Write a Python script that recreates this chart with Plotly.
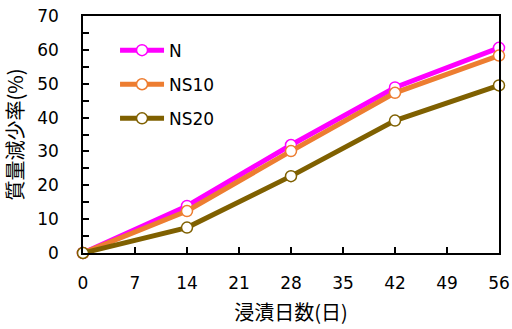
import plotly.graph_objects as go

days = [0, 14, 28, 42, 56]
series_names = ["N", "NS10", "NS20"]
n_vals = [0, 13.9, 31.9, 48.9, 60.6]
ns10_vals = [0, 12.4, 30.1, 47.3, 58.3]
ns20_vals = [0, 7.5, 22.7, 39.1, 49.5]
colors = ["#FF00FF", "#ED7D31", "#7F6000"]
x_ticks = [0, 7, 14, 21, 28, 35, 42, 49, 56]
y_ticks = [0, 10, 20, 30, 40, 50, 60, 70]

fig = go.Figure()
for name, vals, c in zip(series_names, [n_vals, ns10_vals, ns20_vals], colors):
    fig.add_trace(go.Scatter(
        x=days, y=vals, name=name, mode="lines+markers",
        line=dict(color=c, width=5),
        marker=dict(symbol="circle", size=11, color="white", line=dict(color=c, width=1.5)),
        legendgroup=name, cliponaxis=False,
    ))

font_lat = "DejaVu Sans, sans-serif"
cjk = "Noto Sans CJK JP"
fig.update_layout(
    width=512, height=329,
    margin=dict(l=83, r=13, t=16, b=76, autoexpand=False),
    paper_bgcolor="white", plot_bgcolor="white",
    font=dict(family=font_lat, size=17, color="black"),
    showlegend=True,
    legend=dict(x=0.077, y=0.93, xanchor="left", yanchor="top",
                bgcolor="rgba(0,0,0,0)", font=dict(size=17, family=font_lat),
                tracegroupgap=9, itemwidth=44),
    xaxis=dict(range=[0, 56], tickvals=x_ticks, ticks="inside", ticklen=6,
               tickwidth=1.5, tickcolor="black", showline=True, linecolor="black",
               linewidth=1.5, mirror=True, showgrid=False, zeroline=False,
               tickfont=dict(size=17), ticklabelstandoff=14, automargin=False,
               title=dict(text="浸漬日数(日)", font=dict(family=cjk, size=20, color="black"), standoff=14)),
    yaxis=dict(range=[0, 70], tickvals=y_ticks, ticks="inside", ticklen=6,
               tickwidth=1.5, tickcolor="black", showline=True, linecolor="black",
               linewidth=1.5, mirror=True, showgrid=False, zeroline=False,
               tickfont=dict(size=17), ticklabelstandoff=19, automargin=False,
               minor=dict(dtick=5, ticks="inside", ticklen=6, tickwidth=1.5, tickcolor="black", showgrid=False),
               title=dict(text="質量減少率(%)", font=dict(family=cjk, size=20, color="black"), standoff=8)),
)
fig.write_html("out.html", config={"displayModeBar": False},
               post_script="document.body.style.margin='0';")
